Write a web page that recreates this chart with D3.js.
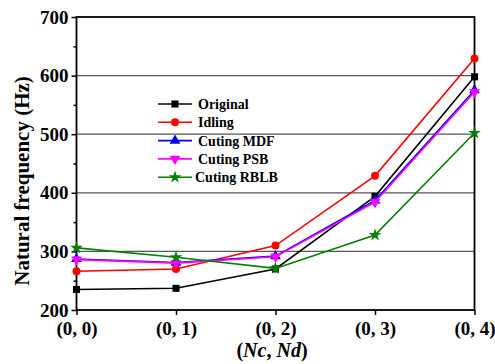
<!DOCTYPE html>
<html><head><meta charset="utf-8">
<script src="https://cdn.jsdelivr.net/npm/d3@7"></script>
<style>body{margin:0;background:#fff}svg{display:block}text{font-family:"Liberation Serif","Times New Roman",serif;font-weight:bold}</style>
</head><body><svg id="c" width="495" height="364"></svg>
<script>
const categories = ["(0, 0)", "(0, 1)", "(0, 2)", "(0, 3)", "(0, 4)"];
const original = [235, 237, 270, 394, 598];
const idling = [266, 270, 310, 429, 629];
const cutingMDF = [287, 281, 292, 387, 575];
const cutingPSB = [286, 280, 291, 384, 572];
const cutingRBLB = [306, 290, 271, 328, 502];
const yTicks = [200, 300, 400, 500, 600, 700];
const seriesNames = ["Original", "Idling", "Cuting MDF", "Cuting PSB", "Cuting RBLB"];
const seriesColors = ["#000000", "#ff0000", "#0000ff", "#ff00ff", "#008000"];
const seriesShapes = ["square", "circle", "triangle", "triangleDown", "star"];
const seriesValues = [original, idling, cutingMDF, cutingPSB, cutingRBLB];

const svg = d3.select("#c");
const L = 76.5, R = 474.5, T = 17, B = 310;
const x = d3.scalePoint().domain(categories).range([L, R]);
const y = d3.scaleLinear().domain([200, 700]).range([B, T]);

// gridlines
svg.append("g").selectAll("line").data(yTicks.filter(d => d > 200 && d < 700)).join("line")
  .attr("x1", L).attr("x2", R).attr("y1", d => y(d)).attr("y2", d => y(d))
  .attr("stroke", "#555").attr("stroke-width", 1.2);

// axes
const yAxis = d3.axisLeft(y).tickValues(yTicks).tickSize(5).tickPadding(3).tickFormat(d3.format("d"));
const gy = svg.append("g").attr("transform", `translate(${L},0)`).call(yAxis);
const yMinor = d3.axisLeft(y).tickValues([250, 350, 450, 550, 650]).tickSize(3).tickFormat("");
svg.append("g").attr("transform", `translate(${L},0)`).call(yMinor).select(".domain").remove();
const xAxis = d3.axisBottom(x).tickSize(5).tickPadding(7);
const gx = svg.append("g").attr("transform", `translate(0,${B})`).call(xAxis);
[gy, gx].forEach(g => {
  g.selectAll("text").attr("font-size", 19).attr("font-family", "Liberation Serif").attr("font-weight", "bold").attr("fill", "#000");
  g.select(".domain").remove();
});
svg.selectAll(".tick line").attr("stroke", "#000").attr("stroke-width", 1.5);

// frame
svg.append("rect").attr("x", L).attr("y", T).attr("width", R - L).attr("height", B - T)
  .attr("fill", "none").attr("stroke", "#000").attr("stroke-width", 1.8);

function symbolFor(shape, size) {
  if (shape === "square") return d3.symbol(d3.symbolSquare, size)();
  if (shape === "circle") return d3.symbol(d3.symbolCircle, size)();
  if (shape === "triangle") return d3.symbol(d3.symbolTriangle, size)();
  if (shape === "triangleDown") return d3.symbol(d3.symbolTriangle, size)();
  if (shape === "star") return d3.symbol(d3.symbolStar, size)();
}
const line = d3.line().x((d, i) => x(categories[i])).y(d => y(d));
seriesValues.forEach((vals, si) => {
  const g = svg.append("g");
  g.append("path").datum(vals).attr("d", line).attr("fill", "none")
    .attr("stroke", seriesColors[si]).attr("stroke-width", 1.6);
  g.selectAll("path.m").data(vals).join("path").attr("class", "m")
    .attr("d", symbolFor(seriesShapes[si], 50))
    .attr("transform", (d, i) => `translate(${x(categories[i])},${y(d)})` + (seriesShapes[si] === "triangleDown" ? " rotate(180)" : ""))
    .attr("fill", seriesColors[si]);
});

// legend
const lg = svg.append("g");
seriesNames.forEach((name, i) => {
  const yy = 104 + i * 18.3;
  lg.append("line").attr("x1", 158).attr("x2", 192).attr("y1", yy).attr("y2", yy)
    .attr("stroke", seriesColors[i]).attr("stroke-width", 1.6);
  lg.append("path").attr("d", symbolFor(seriesShapes[i], 50))
    .attr("transform", `translate(175,${yy})` + (seriesShapes[i] === "triangleDown" ? " rotate(180)" : ""))
    .attr("fill", seriesColors[i]);
  lg.append("text").attr("x", i === 4 ? 195 : 198).attr("y", yy + 5).attr("font-size", 14).text(name);
});

// axis titles
svg.append("text").attr("transform", `translate(29,181) rotate(-90)`)
  .attr("text-anchor", "middle").attr("font-size", 21).text("Natural frequency (Hz)");
const xt = svg.append("text").attr("x", 272).attr("y", 357).attr("text-anchor", "middle").attr("font-size", 20);
xt.append("tspan").text("(");
xt.append("tspan").attr("font-style", "italic").text("Nc");
xt.append("tspan").text(", ");
xt.append("tspan").attr("font-style", "italic").text("Nd");
xt.append("tspan").text(")");
</script></body></html>
